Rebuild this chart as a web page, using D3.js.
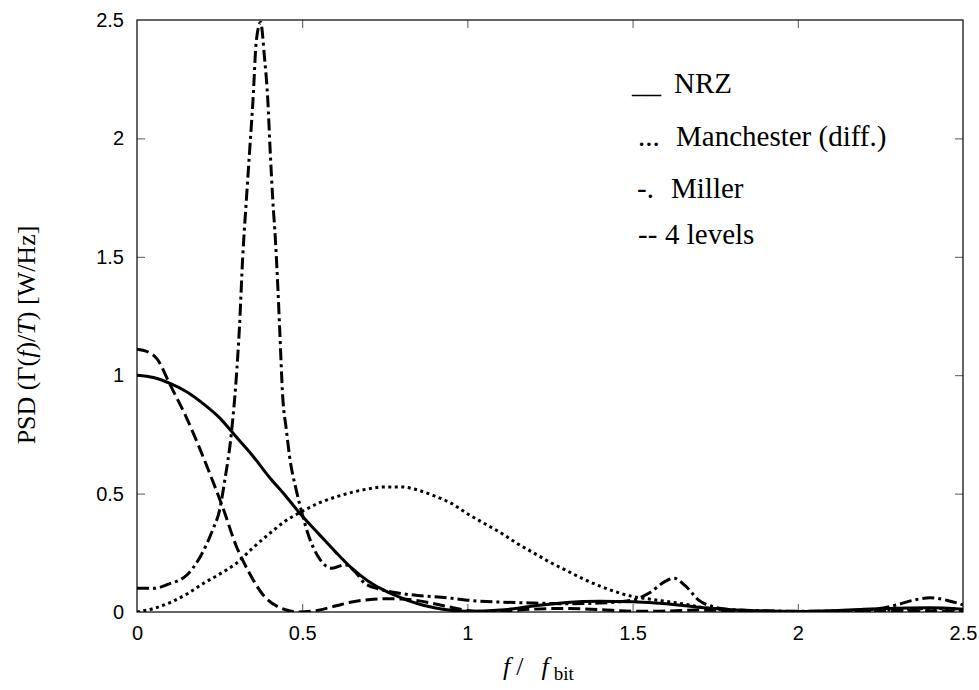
<!DOCTYPE html>
<html>
<head>
<meta charset="utf-8">
<script src="https://cdn.jsdelivr.net/npm/d3@7"></script>
<style>
  body { margin: 0; background: #fff; }
  .tick text { font-family: "Liberation Sans", Arial, sans-serif; font-size: 20px; fill: #000; }
  .tick line { stroke: #555; stroke-width: 1; }
  .serif { font-family: "Liberation Serif", "Times New Roman", serif; fill: #000; }
</style>
</head>
<body>
<div id="chart"></div>
<script>
'use strict'

// frequency ticks and PSD ticks
const xTicks = [0, 0.5, 1, 1.5, 2, 2.5]
const yTicks = [0, 0.5, 1, 1.5, 2, 2.5]

// NRZ
const nrzF = [0, 0.05, 0.1, 0.15, 0.2, 0.25, 0.3, 0.35, 0.4, 0.45, 0.5, 0.55, 0.6, 0.65, 0.7, 0.75, 0.8, 0.85, 0.9, 0.95, 1.0, 1.1, 1.2, 1.3, 1.4, 1.5, 1.6, 1.7, 1.8, 1.9, 2.0, 2.1, 2.2, 2.3, 2.4, 2.5]
const nrzP = [1.0, 0.99, 0.965, 0.93, 0.88, 0.82, 0.74, 0.66, 0.57, 0.49, 0.405, 0.33, 0.255, 0.185, 0.13, 0.09, 0.06, 0.035, 0.018, 0.007, 0.003, 0.008, 0.025, 0.04, 0.045, 0.043, 0.035, 0.02, 0.01, 0.004, 0.002, 0.005, 0.012, 0.016, 0.018, 0.012]

// Manchester (diff.)
const manF = [0, 0.05, 0.1, 0.15, 0.2, 0.25, 0.3, 0.35, 0.4, 0.45, 0.5, 0.55, 0.6, 0.65, 0.7, 0.75, 0.8, 0.85, 0.9, 0.95, 1.0, 1.05, 1.1, 1.15, 1.2, 1.25, 1.3, 1.35, 1.4, 1.45, 1.5, 1.55, 1.6, 1.65, 1.7, 1.75, 1.8, 1.9, 2.0, 2.1, 2.2, 2.3, 2.4, 2.5]
const manP = [0.0, 0.015, 0.04, 0.075, 0.12, 0.16, 0.205, 0.27, 0.33, 0.385, 0.425, 0.46, 0.485, 0.505, 0.52, 0.528, 0.528, 0.515, 0.49, 0.46, 0.415, 0.375, 0.335, 0.29, 0.25, 0.21, 0.175, 0.14, 0.11, 0.085, 0.065, 0.055, 0.045, 0.035, 0.022, 0.012, 0.006, 0.002, 0.001, 0.002, 0.004, 0.01, 0.015, 0.01]

// Miller
const milF = [0, 0.05, 0.1, 0.15, 0.19, 0.23, 0.25, 0.265, 0.286, 0.3, 0.31, 0.32, 0.331, 0.341, 0.351, 0.361, 0.374, 0.386, 0.396, 0.403, 0.411, 0.419, 0.426, 0.432, 0.441, 0.452, 0.462, 0.482, 0.497, 0.52, 0.55, 0.59, 0.63, 0.66, 0.69, 0.74, 0.79, 0.85, 0.94, 1.0, 1.1, 1.2, 1.3, 1.4, 1.5, 1.55, 1.6, 1.625, 1.66, 1.7, 1.75, 1.8, 1.9, 2.0, 2.1, 2.2, 2.3, 2.35, 2.4, 2.45, 2.5]
const milP = [0.10, 0.10, 0.12, 0.155, 0.23, 0.35, 0.43, 0.55, 0.76, 0.98, 1.2, 1.5, 1.74, 1.95, 2.16, 2.41, 2.49, 2.34, 2.16, 1.95, 1.74, 1.57, 1.38, 1.19, 0.91, 0.77, 0.655, 0.515, 0.43, 0.32, 0.23, 0.185, 0.2, 0.17, 0.12, 0.095, 0.08, 0.07, 0.06, 0.05, 0.042, 0.038, 0.035, 0.038, 0.05, 0.08, 0.13, 0.143, 0.11, 0.05, 0.02, 0.01, 0.005, 0.003, 0.004, 0.008, 0.03, 0.05, 0.06, 0.05, 0.03]

// 4 levels
const lv4F = [0, 0.03, 0.06, 0.1, 0.15, 0.19, 0.23, 0.26, 0.3, 0.34, 0.38, 0.43, 0.49, 0.55, 0.6, 0.65, 0.7, 0.75, 0.8, 0.85, 0.9, 0.95, 1.0, 1.05, 1.1, 1.2, 1.3, 1.4, 1.5, 1.6, 1.7, 1.8, 1.9, 2.0, 2.1, 2.2, 2.3, 2.4, 2.5]
const lv4P = [1.11, 1.1, 1.07, 0.96, 0.82, 0.69, 0.55, 0.44, 0.28, 0.165, 0.075, 0.02, 0.0, 0.008, 0.025, 0.042, 0.052, 0.056, 0.055, 0.048, 0.035, 0.02, 0.006, 0.0, 0.003, 0.012, 0.015, 0.01, 0.003, 0.004, 0.008, 0.006, 0.003, 0.0, 0.003, 0.005, 0.006, 0.005, 0.002]

const seriesNames = ['NRZ', 'Manchester', 'Miller', '4 levels']
const legendMarks = ['__', '...', '-.', '--']
const legendLabels = ['NRZ', 'Manchester (diff.)', 'Miller', '4 levels']

const W = 979
const H = 690
const margin = { left: 137, top: 20, right: 16, bottom: 78 }
const iw = W - margin.left - margin.right
const ih = H - margin.top - margin.bottom

const svg = d3.select('#chart').append('svg')
  .attr('width', W)
  .attr('height', H)

const x = d3.scaleLinear().domain([0, 2.5]).range([0, iw])
const y = d3.scaleLinear().domain([0, 2.5]).range([ih, 0])

const g = svg.append('g').attr('transform', `translate(${margin.left},${margin.top})`)

svg.append('defs').append('clipPath').attr('id', 'plotclip')
  .append('rect').attr('x', 0).attr('y', -4).attr('width', iw).attr('height', ih + 4)

const fmt = d => String(d)

// axes (ticks point inward)
g.append('g').attr('transform', `translate(0,${ih})`)
  .call(d3.axisBottom(x).tickValues(xTicks).tickSize(-8).tickPadding(14).tickFormat(fmt))
g.append('g')
  .call(d3.axisLeft(y).tickValues(yTicks).tickSize(-8).tickPadding(13).tickFormat(fmt))
g.append('g')
  .call(d3.axisTop(x).tickValues(xTicks).tickSize(-8).tickFormat(''))
g.append('g').attr('transform', `translate(${iw},0)`)
  .call(d3.axisRight(y).tickValues(yTicks).tickSize(-8).tickFormat(''))
g.selectAll('.domain').remove()
g.selectAll('.tick line').filter(d => d === 0 || d === 2.5).remove()

// frame
g.append('rect')
  .attr('width', iw)
  .attr('height', ih)
  .attr('fill', 'none')
  .attr('stroke', '#000')
  .attr('stroke-width', 1.2)

// curves
const curves = [
  { f: nrzF, p: nrzP, dash: null },
  { f: manF, p: manP, dash: '3,3.5' },
  { f: milF, p: milP, dash: '12,4,3,4' },
  { f: lv4F, p: lv4P, dash: '12,5' }
]

const line = d3.line()
  .x(d => x(d[0]))
  .y(d => y(d[1]))
  .curve(d3.curveMonotoneX)

g.append('g').attr('clip-path', 'url(#plotclip)')
  .selectAll('path.psd')
  .data(curves)
  .enter()
  .append('path')
  .attr('class', (d, i) => `psd ${seriesNames[i].replace(' ', '')}`)
  .attr('d', d => line(d.f.map((v, i) => [v, d.p[i]])))
  .attr('fill', 'none')
  .attr('stroke', '#000')
  .attr('stroke-width', 3)
  .attr('stroke-dasharray', d => d.dash)

// legend (text only, as in the original)
const legY = [93, 146, 198, 244]
const markX = [632, 638, 637, 638]
const labX = [674, 676, 671, 665]
const leg = svg.append('g').attr('class', 'legend serif').attr('font-size', 29)
leg.selectAll('text.mark')
  .data(legendMarks)
  .enter()
  .append('text')
  .attr('class', 'mark serif')
  .attr('x', (d, i) => markX[i])
  .attr('y', (d, i) => legY[i])
  .text(d => d)
leg.selectAll('text.lab')
  .data(legendLabels)
  .enter()
  .append('text')
  .attr('class', 'lab serif')
  .attr('x', (d, i) => labX[i])
  .attr('y', (d, i) => legY[i])
  .text(d => d)

// x label
const xl = svg.append('text')
  .attr('class', 'serif')
  .attr('x', 503)
  .attr('y', 675)
  .attr('font-size', 26)
xl.append('tspan').attr('font-style', 'italic').text('f')
xl.append('tspan').attr('dx', 6).text('/')
xl.append('tspan').attr('dx', 18).attr('font-style', 'italic').text('f')
xl.append('tspan').attr('dx', 5).attr('dy', 5).attr('font-size', 19).text('bit')

// y label
const yl = svg.append('text')
  .attr('class', 'serif')
  .attr('transform', 'translate(35,335) rotate(-90)')
  .attr('text-anchor', 'middle')
  .attr('font-size', 26)
yl.append('tspan').text('PSD (\u0393(')
yl.append('tspan').attr('font-style', 'italic').text('f')
yl.append('tspan').text(')/')
yl.append('tspan').attr('font-style', 'italic').text('T')
yl.append('tspan').text(') [W/Hz]')
</script>
</body>
</html>
